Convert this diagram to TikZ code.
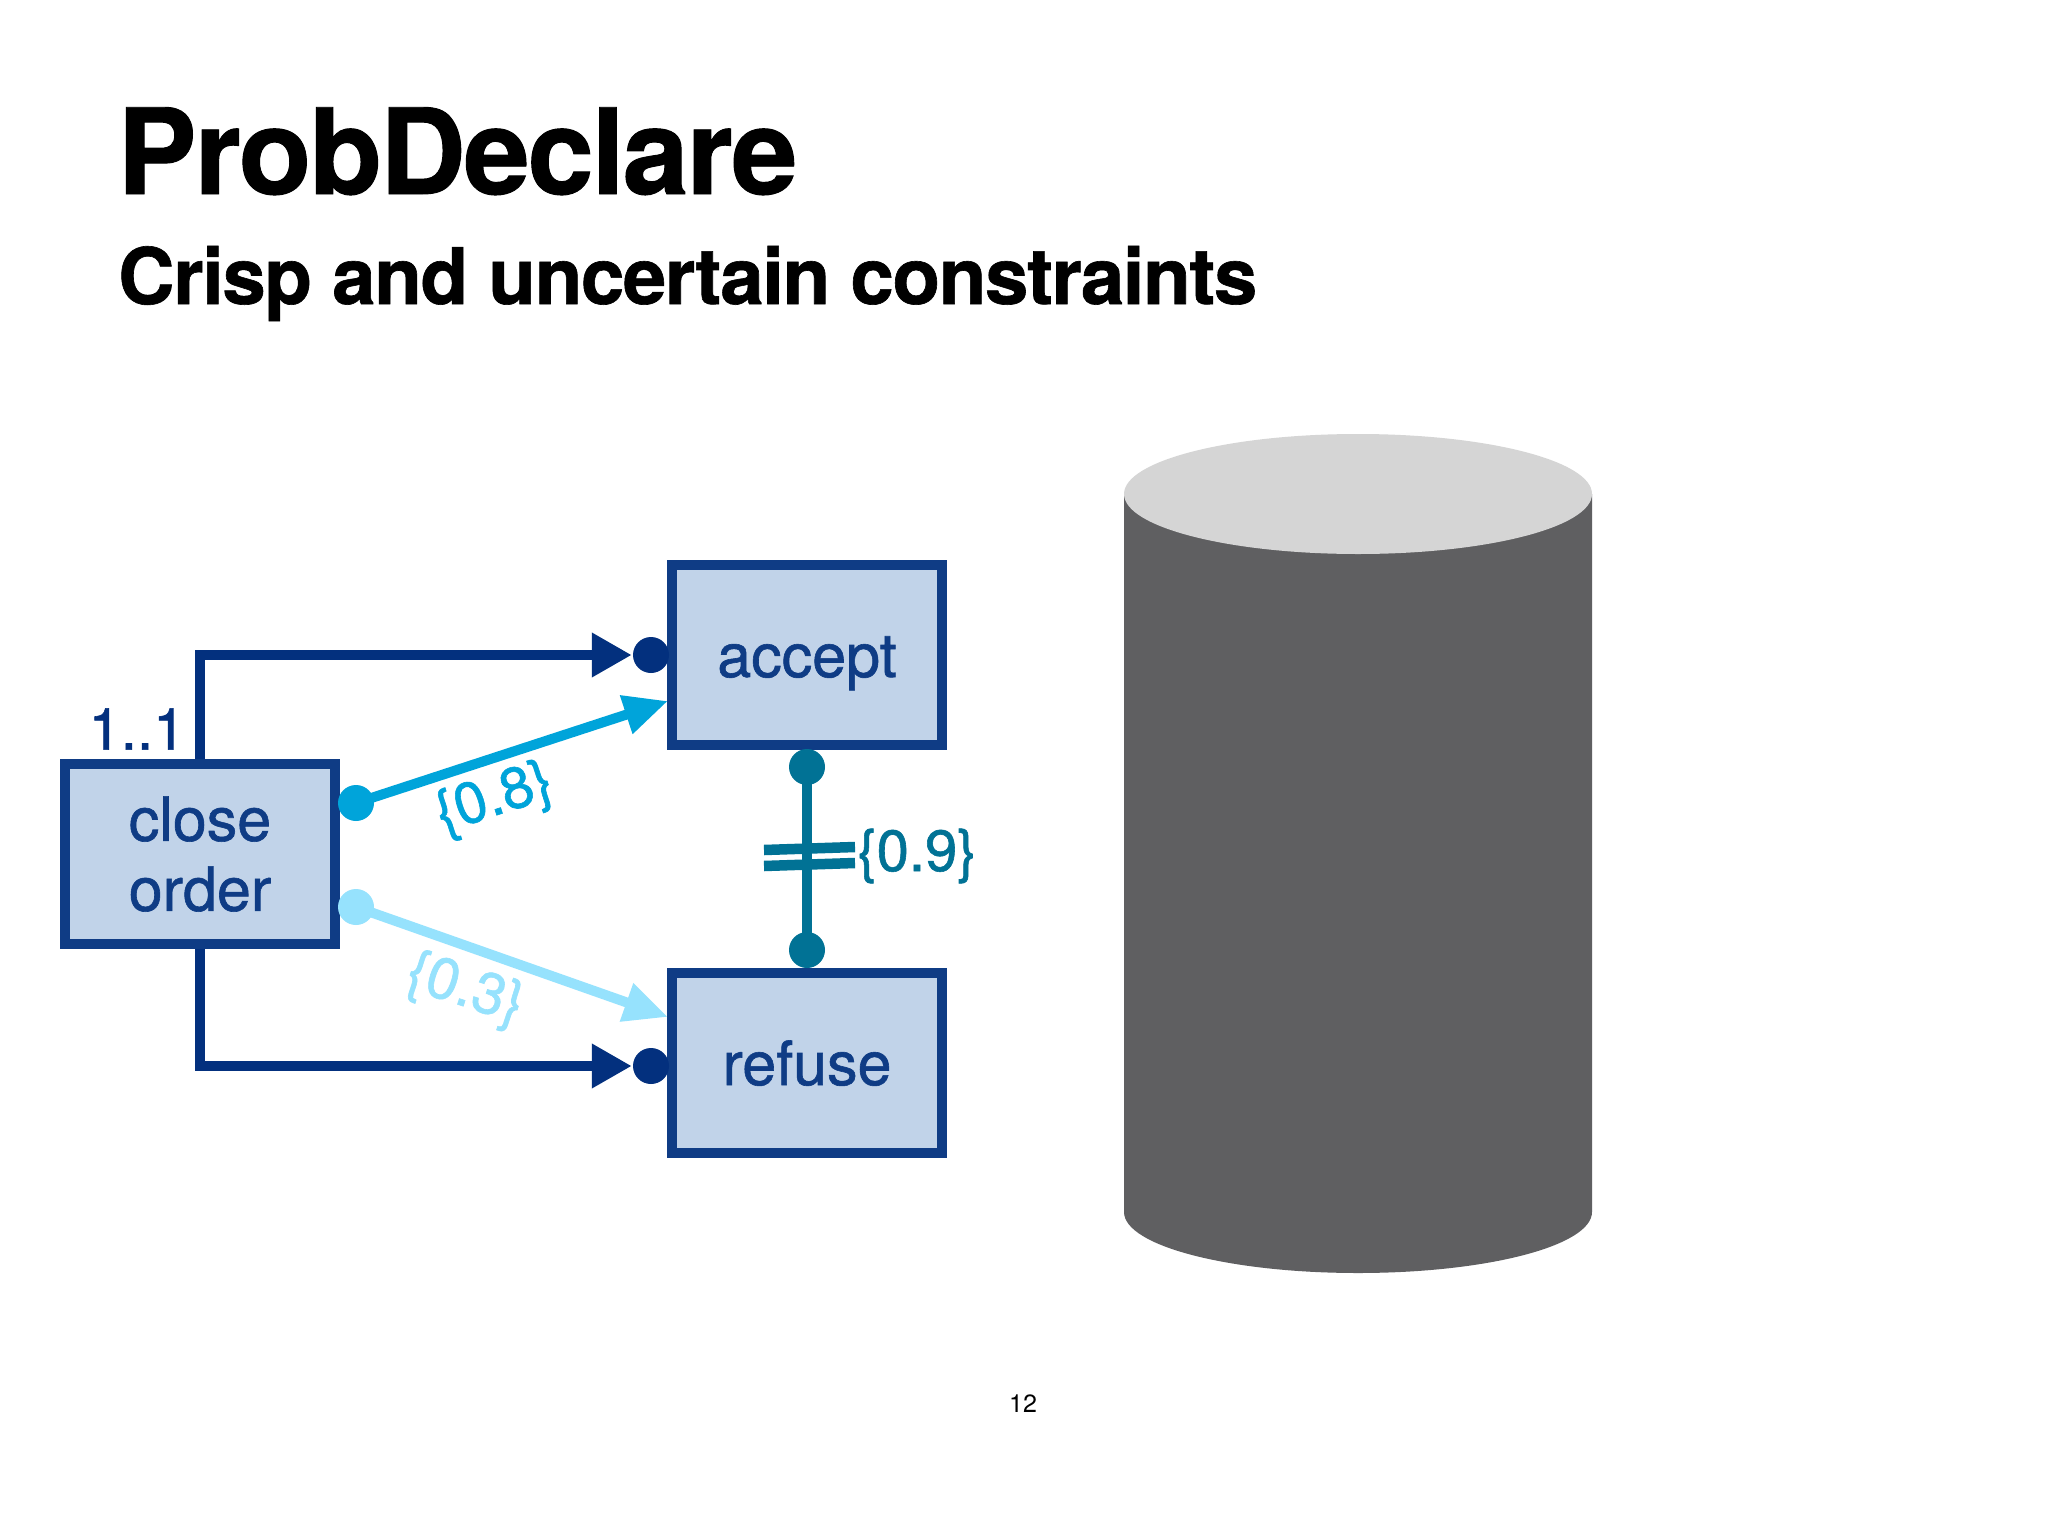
\documentclass[tikz,border=0pt]{standalone}
\usepackage{fontspec}
\setmainfont{TeX Gyre Heros}
\usetikzlibrary{arrows.meta,calc}
\definecolor{boxfill}{HTML}{C1D3E9}
\definecolor{boxline}{HTML}{0F3C85}
\definecolor{navy}{HTML}{03307E}
\definecolor{bright}{HTML}{00A4DA}
\definecolor{pale}{HTML}{96E2FD}
\definecolor{teal2}{HTML}{017295}
\definecolor{cyl}{HTML}{5F5F61}
\definecolor{cyltop}{HTML}{D5D5D5}
\newcommand{\fs}[1]{\fontsize{#1}{#1}\selectfont\addfontfeature{FakeBold=1}}
\newcommand{\ts}[1]{\fontsize{#1}{#1}\selectfont\addfontfeature{LetterSpace=-1.8,FakeBold=0.8}}
\tikzset{
  activity/.style={draw=boxline,fill=boxfill,line width=10.5pt,minimum width=270pt,minimum height=180pt,inner sep=0pt,text=boxline,font=\fs{61},align=center},
  dot/.style={circle,inner sep=0pt,minimum size=36pt,fill=#1},
  lbl/.style={inner sep=0pt,font=\fs{58},text=#1},
  titletext/.style={inner sep=0pt,anchor=base west,font=\bfseries\ts{#1},text=black},
  link/.style={line width=10pt,draw=#1},
  tiplarge/.style={-{Triangle[length=40pt,width=42pt]}},
  tipsmall/.style={-{Triangle[length=44pt,width=38pt]}}
}
\begin{document}
\begin{tikzpicture}[x=1pt,y=-1pt]
\useasboundingbox (0,0) rectangle (2048,1536);
\fill[white] (0,0) rectangle (2048,1536);
\node[titletext=119] (title) at (117,194) {ProbDeclare};
\node[titletext=78] (sub) at (118,304) {Crisp and uncertain constraints};
\node[inner sep=0pt,font=\fontsize{25}{25}\selectfont] (page) at (1023,1404) {12};
% cylinder
\fill[cyl] (1124,494) -- (1124,1212) arc[start angle=180,end angle=0,x radius=234,y radius=61] -- (1592,494) -- cycle;
\fill[cyltop] (1358,494) ellipse[x radius=234,y radius=60];
% boxes
\node[activity] (close) at (200,854) {close\\[9pt]order};
\node[activity,text height=44pt,text depth=0pt] (accept) at (807,655) {accept};
\node[activity,text height=44pt,text depth=0pt] (refuse) at (807,1063) {refuse};
% dots
\node[dot=navy] (adot) at (651,655) {};
\node[dot=navy] (rdot) at (651,1066) {};
\node[dot=bright] (bdot) at (356,803) {};
\node[dot=pale] (pdot) at (356,907) {};
\node[dot=teal2] (tdot1) at (807,767) {};
\node[dot=teal2] (tdot2) at (807,950) {};
\coordinate (atip) at (668,701);
\coordinate (rtip) at (668,1017);
% connectors
\draw[link=navy,tiplarge] (close.north) |- ($(adot.west)+(-1,0)$);
\draw[link=navy,tiplarge] (close.south) |- ($(rdot.west)+(-1,0)$);
\draw[link=bright,tipsmall] (bdot.center) -- (atip);
\draw[link=pale,tipsmall] (pdot.center) -- (rtip);
\draw[link=teal2] (tdot1.center) -- (tdot2.center);
\coordinate (b1l) at (764,850); \coordinate (b1r) at (855,847);
\coordinate (b2l) at (764,866); \coordinate (b2r) at (855,863);
\draw[link=teal2,line width=10.5pt] (b1l) -- (b1r);
\draw[link=teal2,line width=10.5pt] (b2l) -- (b2r);
% labels
\node[lbl=navy] (card) at (137,729) {1..1};
\node[lbl=bright,rotate=18] (p8) at (495,800) {\{0.8\}};
\node[lbl=pale,rotate=-18] (p3) at (465,991) {\{0.3\}};
\node[lbl=teal2] (p9) at (917,856) {\{0.9\}};
\end{tikzpicture}
\end{document}
